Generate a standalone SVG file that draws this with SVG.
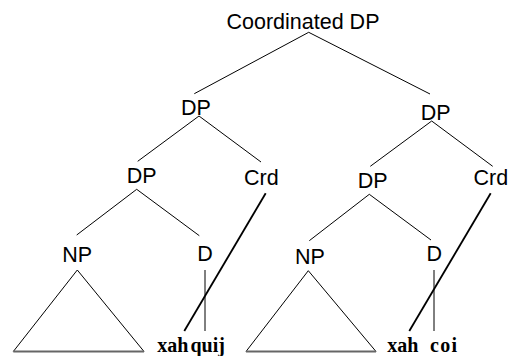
<svg xmlns="http://www.w3.org/2000/svg" width="509" height="356" viewBox="0 0 509 356">
  <style>
    .lbl { font-family: "Liberation Sans", Arial, sans-serif; font-size: 21.5px; fill: #000; text-anchor: middle; }
    .word { font-family: "Liberation Serif", "Times New Roman", serif; font-size: 20px; font-weight: bold; fill: #000; }
    .edge { stroke: #000; stroke-width: 1; fill: none; }
    .assoc { stroke: #000; stroke-width: 1.8; fill: none; }
    .tri { stroke: #000; stroke-width: 1; fill: none; }
    .base { stroke: #666; stroke-width: 2; }
  </style>
  <rect width="509" height="356" fill="#fff"/>

  <g id="connectors">
    <!-- root -->
    <line class="edge" x1="308.7" y1="32.3" x2="194.3" y2="93.7"/>
    <line class="edge" x1="308.7" y1="32.3" x2="430" y2="94"/>
    <!-- left DP -->
    <line class="edge" x1="199" y1="116" x2="137.7" y2="161.3"/>
    <line class="edge" x1="199" y1="116" x2="261" y2="162"/>
    <!-- right DP -->
    <line class="edge" x1="431.7" y1="121" x2="370.3" y2="166.3"/>
    <line class="edge" x1="431.7" y1="121" x2="492.7" y2="166.3"/>
    <!-- lower left DP -->
    <line class="edge" x1="136.7" y1="189.3" x2="76.7" y2="235"/>
    <line class="edge" x1="136.7" y1="189.3" x2="199.3" y2="235.7"/>
    <!-- lower right DP -->
    <line class="edge" x1="369.3" y1="194.3" x2="309.3" y2="240.7"/>
    <line class="edge" x1="369.3" y1="194.3" x2="431" y2="240"/>
    <!-- D to word -->
    <line class="edge" x1="205" y1="270" x2="205" y2="331"/>
    <line class="edge" x1="434" y1="270" x2="434" y2="331"/>
    <!-- Crd to word -->
    <line class="assoc" x1="265.7" y1="193.3" x2="184.3" y2="331"/>
    <line class="assoc" x1="490.7" y1="193.3" x2="409.3" y2="331"/>
  </g>

  <g id="root"><text class="lbl" x="303" y="29">Coordinated DP</text></g>
  <g id="dp-left"><text class="lbl" x="196" y="115">DP</text></g>
  <g id="dp-right"><text class="lbl" x="435.7" y="120">DP</text></g>
  <g id="dp-left-inner"><text class="lbl" x="141.7" y="183">DP</text></g>
  <g id="crd-left"><text class="lbl" x="261.3" y="185">Crd</text></g>
  <g id="dp-right-inner"><text class="lbl" x="372.7" y="188.3">DP</text></g>
  <g id="crd-right"><text class="lbl" x="490.8" y="185">Crd</text></g>
  <g id="np-left"><text class="lbl" x="77.2" y="261.7">NP</text></g>
  <g id="d-left"><text class="lbl" x="205" y="260.7">D</text></g>
  <g id="np-right"><text class="lbl" x="310" y="264">NP</text></g>
  <g id="d-right"><text class="lbl" x="434.3" y="260.7">D</text></g>

  <g id="tri-left">
    <polyline class="tri" points="13.3,351.5 77.3,270 144,351.5"/>
    <line class="base" x1="13.3" y1="351.5" x2="144" y2="351.5"/>
  </g>
  <g id="tri-right">
    <polyline class="tri" points="246,351.5 308.3,270.7 376,351.5"/>
    <line class="base" x1="246" y1="351.5" x2="376" y2="351.5"/>
  </g>

  <g id="word-left">
    <text class="word" x="157.3" y="351.5">xah</text>
    <text class="word" x="190.5" y="351.5">quij</text>
  </g>
  <g id="word-right">
    <text class="word" x="387.3" y="351.5">xah</text>
    <text class="word" x="430" y="351.5" textLength="27" lengthAdjust="spacing">coi</text>
  </g>
</svg>
